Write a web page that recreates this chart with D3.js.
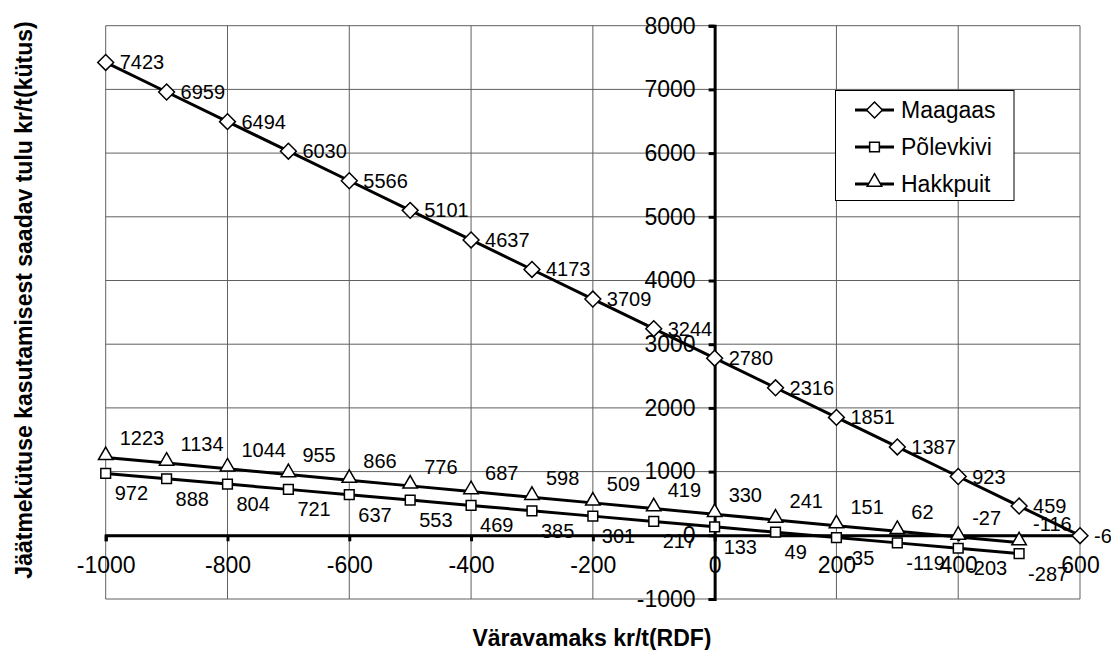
<html>
<head>
<script src="https://d3js.org/d3.v7.min.js"></script>
<style>
  body { margin: 0; background: #fff; }
  text { font-family: Arial, "Liberation Sans", sans-serif; }
</style>
</head>
<body>
<svg width="1111" height="650"></svg>
<script>
// data
const xMaagaas = [-1000,-900,-800,-700,-600,-500,-400,-300,-200,-100,0,100,200,300,400,500,600];
const maagaas = [7423,6959,6494,6030,5566,5101,4637,4173,3709,3244,2780,2316,1851,1387,923,459,-6];
const xOther = [-1000,-900,-800,-700,-600,-500,-400,-300,-200,-100,0,100,200,300,400,500];
const polevkivi = [972,888,804,721,637,553,469,385,301,217,133,49,-35,-119,-203,-287];
const hakkpuit = [1223,1134,1044,955,866,776,687,598,509,419,330,241,151,62,-27,-116];
const xTicks = [-1000,-800,-600,-400,-200,0,200,400,600];
const yTicks = [-1000,0,1000,2000,3000,4000,5000,6000,7000,8000];

const svg = d3.select('svg');
const x = d3.scaleLinear().domain([-1000, 600]).range([105.7, 1080]);
const y = d3.scaleLinear().domain([-1000, 8000]).range([599, 25.7]);

const grid = svg.append('g');
grid.selectAll('line.gx').data(xTicks).join('line')
    .attr('x1', d => x(d)).attr('x2', d => x(d))
    .attr('y1', y(8000)).attr('y2', y(-1000))
    .attr('stroke', '#606060').attr('stroke-width', 1);
grid.selectAll('line.gy').data(yTicks).join('line')
    .attr('x1', x(-1000)).attr('x2', x(600))
    .attr('y1', d => y(d)).attr('y2', d => y(d))
    .attr('stroke', '#606060').attr('stroke-width', 1);

// axes crossing at zero
const xAxis = svg.append('g').attr('transform', `translate(0,${y(0)})`)
    .call(d3.axisBottom(x).tickValues(xTicks).tickSize(6).tickPadding(24).tickFormat(d => String(d)));
const yAxis = svg.append('g').attr('transform', `translate(${x(0)},0)`)
    .call(d3.axisLeft(y).tickValues(yTicks).tickSize(6).tickPadding(14).tickFormat(d => String(d)));
[xAxis, yAxis].forEach(a => {
    a.select('.domain').attr('stroke', '#000').attr('stroke-width', 3);
    a.selectAll('.tick line').attr('stroke', '#000').attr('stroke-width', 3);
    a.selectAll('.tick text').attr('fill', '#000')
        .style('font-size', '23px').style('font-family', 'Arial, "Liberation Sans", sans-serif');
});
xAxis.selectAll('.tick text').attr('dy', '0.32em');
yAxis.selectAll('.tick text').attr('x', -19);

const line = d3.line();
function drawSeries(xs, ys) {
    svg.append('path').datum(xs.map((v, i) => [x(v), y(ys[i])]))
        .attr('d', line).attr('fill', 'none').attr('stroke', '#000').attr('stroke-width', 3);
}
drawSeries(xOther, polevkivi);
drawSeries(xOther, hakkpuit);
drawSeries(xMaagaas, maagaas);

const sym = {
    diamond: d3.symbol().type(d3.symbolDiamond2).size(160),
    square: d3.symbol().type(d3.symbolSquare2).size(120),
    triangle: d3.symbol().type(d3.symbolTriangle2).size(150)
};
function drawMarkers(xs, ys, s, dy) {
    svg.append('g').selectAll('path').data(xs).join('path')
        .attr('transform', (d, i) => `translate(${x(d)},${y(ys[i]) + dy})`)
        .attr('d', s).attr('fill', '#fff').attr('stroke', '#000').attr('stroke-width', 1.5);
}
drawMarkers(xOther, polevkivi, sym.square, 0);
drawMarkers(xOther, hakkpuit, sym.triangle, -2);
drawMarkers(xMaagaas, maagaas, sym.diamond, 0);

function drawLabels(xs, ys, dx, dy) {
    svg.append('g').selectAll('text').data(xs).join('text')
        .attr('x', d => x(d) + dx).attr('y', (d, i) => y(ys[i]) + dy)
        .attr('dy', '0.35em').style('font-size', '20px').attr('fill', '#000')
        .text((d, i) => ys[i]);
}
drawLabels(xMaagaas, maagaas, 14, 0);
drawLabels(xOther, hakkpuit, 14, -19);
drawLabels(xOther, polevkivi, 9, 20);

// legend
const names = ['Maagaas', 'Põlevkivi', 'Hakkpuit'];
const legSyms = [sym.diamond, sym.square, sym.triangle];
const leg = svg.append('g');
leg.append('rect').attr('x', 835.5).attr('y', 90.5).attr('width', 178.5).attr('height', 110)
    .attr('fill', '#fff').attr('stroke', '#000').attr('stroke-width', 1);
names.forEach((n, i) => {
    const cy = 110 + i * 37;
    leg.append('line').attr('x1', 855).attr('x2', 894).attr('y1', cy).attr('y2', cy)
        .attr('stroke', '#000').attr('stroke-width', 3);
    leg.append('path').attr('transform', `translate(874.5,${cy + (i === 2 ? -2 : 0)})`).attr('d', legSyms[i])
        .attr('fill', '#fff').attr('stroke', '#000').attr('stroke-width', 1.5);
    leg.append('text').attr('x', 901).attr('y', cy).attr('dy', '0.35em')
        .style('font-size', '23px').text(n);
});

// axis titles
svg.append('text').attr('x', 592).attr('y', 638).attr('dy', '0.35em')
    .attr('text-anchor', 'middle').style('font-size', '23px').style('font-weight', 'bold')
    .text('Väravamaks kr/t(RDF)');
svg.append('text').attr('transform', 'translate(24,300) rotate(-90)').attr('dy', '0.35em')
    .attr('text-anchor', 'middle').style('font-size', '23px').style('font-weight', 'bold')
    .text('Jäätmekütuse kasutamisest saadav tulu kr/t(kütus)');
</script>
</body>
</html>
